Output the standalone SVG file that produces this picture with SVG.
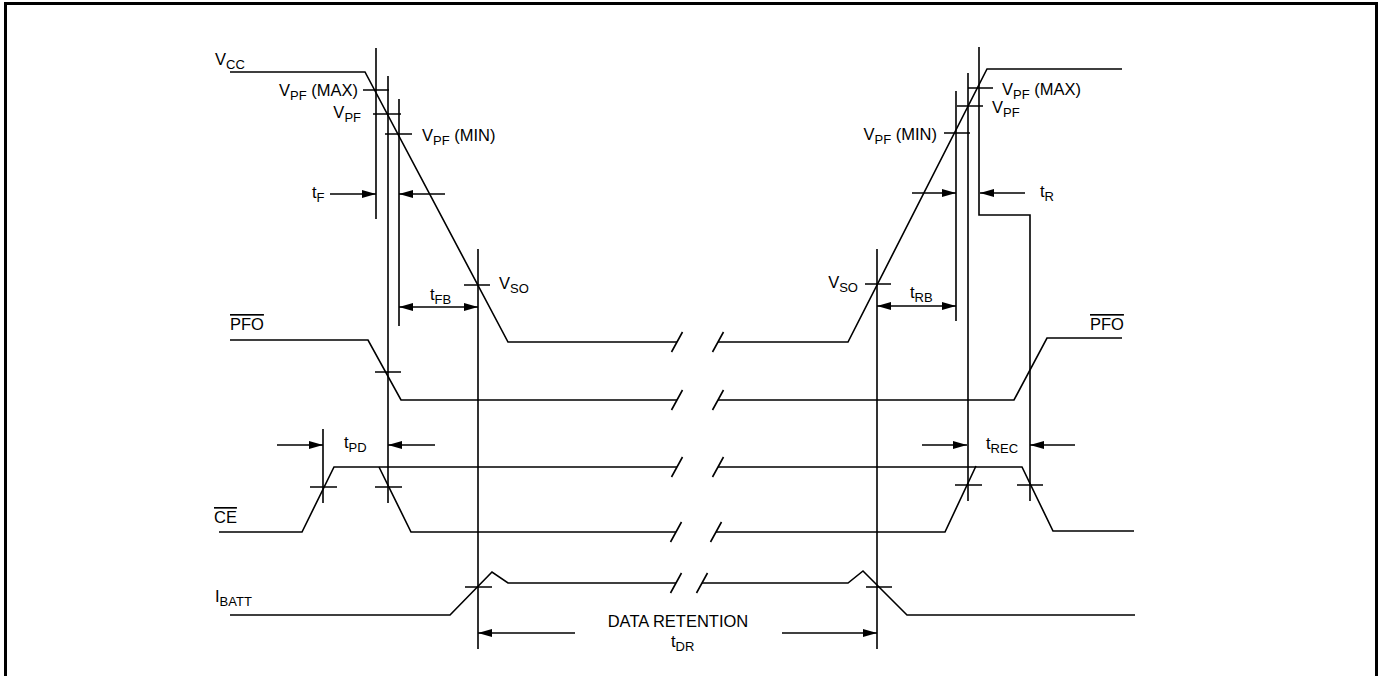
<svg xmlns="http://www.w3.org/2000/svg" width="1380" height="676" viewBox="0 0 1380 676">
<defs>
<marker id="ah" viewBox="0 0 14 8" refX="14" refY="4" markerWidth="14" markerHeight="8" markerUnits="userSpaceOnUse" orient="auto-start-reverse">
<path d="M0,0 L14,4 L0,8 z" fill="#000"/>
</marker>
<style>
.s{fill:none;stroke:#000;stroke-width:1.6}
.a{fill:none;stroke:#000;stroke-width:1.6;marker-end:url(#ah)}
.d{fill:none;stroke:#000;stroke-width:1.6;marker-start:url(#ah);marker-end:url(#ah)}
text{font-family:"Liberation Sans",Arial,sans-serif;font-size:16.5px;fill:#000}
.sub{font-size:13px}
.ov{text-decoration:overline}
</style>
</defs>
<rect x="0" y="0" width="1380" height="676" fill="#fff"/>
<rect x="5.5" y="3.5" width="1371" height="690" fill="none" stroke="#000" stroke-width="3"/>

<g id="connectors">
<polyline class="s" points="230,72 365,72 508,342 677,342"/>
<polyline class="s" points="718,342 848,342 987,69 1122,69"/>
<polyline class="s" points="230,340 368,340 401,400 677,400"/>
<polyline class="s" points="718,400 1014,400 1047,338 1122,338"/>
<polyline class="s" points="219,532 302,532 334,467 677,467"/>
<polyline class="s" points="718,467 1022,467 1053,531 1134,531"/>
<polyline class="s" points="379,467 411,532 676,532"/>
<polyline class="s" points="716,532 945,532 976,466"/>
<polyline class="s" points="230,615 450,615 492,572 508,583 676,583"/>
<polyline class="s" points="702,583 848,583 863,571 907,615 1135,615"/>
<path class="s" d="M671.5,352 L682.5,332 M712.5,352 L723.5,332 M671.5,410 L682.5,390 M712.5,410 L723.5,390 M671.5,477 L682.5,457 M712.5,477 L723.5,457 M670.5,542 L681.5,522 M710.5,542 L721.5,522 M670.5,593 L681.5,573 M696.5,593 L707.5,573"/>
<path class="s" d="M376,48 V219 M388,76 V503 M399,99 V326 M323,429 V503 M478,249 V649 M877,249 V649 M956,91 V321 M968,73 V501"/>
<polyline class="s" points="979,47 979,215 1030,215 1030,501"/>
<path class="s" d="M363,90 H389 M373,114 H401 M385,134 H412 M464,285 H490 M375,372 H401 M310,487 H337 M375,487 H402 M465,587 H492 M968,88 H993 M957,106 H983 M944,133 H970 M865,284 H891 M955,485 H982 M1017,485 H1043 M866,587 H892"/>
<line class="a" x1="330" y1="194" x2="376" y2="194"/>
<line class="a" x1="445" y1="194" x2="399" y2="194"/>
<line class="d" x1="399" y1="307" x2="478" y2="307"/>
<line class="a" x1="277" y1="445" x2="323" y2="445"/>
<line class="a" x1="435" y1="445" x2="388" y2="445"/>
<line class="a" x1="912" y1="193" x2="956" y2="193"/>
<line class="a" x1="1025" y1="193" x2="980" y2="193"/>
<line class="d" x1="877" y1="306" x2="956" y2="306"/>
<line class="a" x1="922" y1="445" x2="967" y2="445"/>
<line class="a" x1="1075" y1="445" x2="1030" y2="445"/>
<line class="a" x1="575" y1="633" x2="478" y2="633"/>
<line class="a" x1="782" y1="633" x2="877" y2="633"/>
</g>

<g id="label-vcc"><text x="215" y="65">V<tspan class="sub" dy="4">CC</tspan></text></g>
<g id="label-vpfmax-l"><text x="358" y="96" text-anchor="end">V<tspan class="sub" dy="4">PF</tspan><tspan dy="-4"> (MAX)</tspan></text></g>
<g id="label-vpf-l"><text x="361" y="118" text-anchor="end">V<tspan class="sub" dy="4">PF</tspan></text></g>
<g id="label-vpfmin-l"><text x="422" y="141">V<tspan class="sub" dy="4">PF</tspan><tspan dy="-4"> (MIN)</tspan></text></g>
<g id="label-tf"><text x="312" y="198">t<tspan class="sub" dy="4">F</tspan></text></g>
<g id="label-tfb"><text x="430" y="300">t<tspan class="sub" dy="4">FB</tspan></text></g>
<g id="label-vso-l"><text x="499" y="289">V<tspan class="sub" dy="4">SO</tspan></text></g>
<g id="label-pfo-l"><text x="230" y="330" class="ov">PFO</text></g>
<g id="label-tpd"><text x="344" y="448">t<tspan class="sub" dy="4">PD</tspan></text></g>
<g id="label-ce"><text x="214" y="523" class="ov">CE</text></g>
<g id="label-ibatt"><text x="215" y="602">I<tspan class="sub" dy="4">BATT</tspan></text></g>
<g id="label-dr"><text x="678" y="627" text-anchor="middle">DATA RETENTION</text></g>
<g id="label-tdr"><text x="671" y="647">t<tspan class="sub" dy="4">DR</tspan></text></g>
<g id="label-vpfmax-r"><text x="1002" y="95">V<tspan class="sub" dy="4">PF</tspan><tspan dy="-4"> (MAX)</tspan></text></g>
<g id="label-vpf-r"><text x="992" y="113">V<tspan class="sub" dy="4">PF</tspan></text></g>
<g id="label-vpfmin-r"><text x="937" y="140" text-anchor="end">V<tspan class="sub" dy="4">PF</tspan><tspan dy="-4"> (MIN)</tspan></text></g>
<g id="label-tr"><text x="1040" y="197">t<tspan class="sub" dy="4">R</tspan></text></g>
<g id="label-vso-r"><text x="858" y="288" text-anchor="end">V<tspan class="sub" dy="4">SO</tspan></text></g>
<g id="label-trb"><text x="910" y="298">t<tspan class="sub" dy="4">RB</tspan></text></g>
<g id="label-pfo-r"><text x="1090" y="330" class="ov">PFO</text></g>
<g id="label-trec"><text x="986" y="449">t<tspan class="sub" dy="4">REC</tspan></text></g>
</svg>
